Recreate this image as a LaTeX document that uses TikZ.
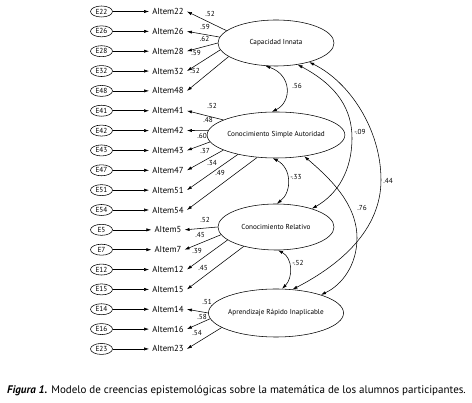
\documentclass[tikz,border=0pt]{standalone}
\usepackage{fontspec}
\setmainfont{PT Sans}
\usetikzlibrary{shapes.geometric,arrows.meta}
\begin{document}
\begin{tikzpicture}[x=1pt,y=-1pt,
  err/.style={ellipse,draw,line width=0.55pt,minimum width=22pt,minimum height=11pt,inner sep=0pt,font=\fontsize{7.3}{8}\selectfont},
  item/.style={inner sep=3pt,font=\fontsize{8.7}{9}\selectfont},
  fac/.style={ellipse,draw,line width=0.55pt,minimum width=116pt,minimum height=46pt,inner sep=0pt,font=\fontsize{7.2}{8}\selectfont},
  ld/.style={inner sep=0pt,font=\fontsize{7.2}{8}\selectfont},
  arr/.style={-{Latex[length=5pt,width=3.2pt]},line width=0.55pt},
  cov/.style={{Latex[length=5pt,width=3.2pt]}-{Latex[length=5pt,width=3.2pt]},line width=0.55pt},
]
\useasboundingbox (0,0) rectangle (472,403);

\foreach \n [count=\i from 0] in {22,26,28,32,48,41,42,43,47,51,54,5,7,12,15,14,16,23} {
  \node[err] (e\n) at (101.5,{11.5+19.85*\i}) {E\n};
  \node[item] (a\n) at (168,{11.5+19.85*\i}) {AItem\n};
  \draw[arr] (e\n) -- (a\n);
}

\node[fac] (ci) at (276,43) {Capacidad Innata};
\node[fac] (csa) at (276,135) {Conocimiento Simple Autoridad};
\node[fac] (cr) at (276,227) {Conocimiento Relativo};
\node[fac,minimum height=48pt] (ari) at (276,313) {Aprendizaje Rápido Inaplicable};

% loadings: Capacidad Innata
\draw[arr] (ci.166) -- (a22.east);
\draw[arr] (ci.174) -- (a26.east);
\draw[arr] (ci.180) -- (a28.east);
\draw[arr] (ci.187) -- (a32.east);
\draw[arr] (ci.196) -- (a48.east);
\node[ld] (l22) at (210,14) {.52};
\node[ld] (l26) at (205,27) {.59};
\node[ld] (l28) at (204.5,39) {.62};
\node[ld] (l32) at (196,53) {.59};
\node[ld] (l48) at (195,71) {.52};

% Conocimiento Simple Autoridad
\draw[arr] (csa.164) -- (a41.east);
\draw[arr] (csa.176) -- (a42.east);
\draw[arr] (csa.186) -- (a43.east);
\draw[arr] (csa.196) -- (a47.east);
\draw[arr] (csa.207) -- (a51.east);
\draw[arr] (csa.230) -- (a54.east);
\node[ld] (l41) at (212,106) {.52};
\node[ld] (l42) at (208,120) {.48};
\node[ld] (l43) at (202,136) {.60};
\node[ld] (l47) at (205,151) {.37};
\node[ld] (l51) at (212,163) {.34};
\node[ld] (l54) at (220,173) {.49};

% Conocimiento Relativo
\draw[arr] (cr.180) -- (a5.east);
\draw[arr] (cr.188) -- (a7.east);
\draw[arr] (cr.195) -- (a12.east);
\draw[arr] (cr.211) -- (a15.east);
\node[ld] (l5) at (205,220) {.52};
\node[ld] (l7) at (200,235) {.45};
\node[ld] (l12) at (197,251) {.39};
\node[ld] (l15) at (203,268) {.45};

% Aprendizaje Rapido Inaplicable
\draw[arr] (ari.180) -- (a14.east);
\draw[arr] (ari.185) -- (a16.east);
\draw[arr] (ari.195) -- (a23.east);
\node[ld] (l14) at (207,302) {.51};
\node[ld] (l16) at (202,317) {.58};
\node[ld] (l23) at (197,333) {.54};

% covariances
\draw[cov] (ci.245) .. controls (292,75) and (292,102) .. (csa.100);
\node[ld] (c1) at (297,86) {.56};
\draw[cov] (csa.262) .. controls (292,168) and (292,192) .. (cr.88);
\node[ld] (c2) at (296,177) {-.33};
\draw[cov] (cr.275) .. controls (293,258) and (293,278) .. (ari.76);
\node[ld] (c3) at (298,263) {-.52};
\draw[cov] (ci.315) .. controls (338,86) and (352,110) .. (352,138) .. controls (352,170) and (338,194) .. (cr.27);
\node[ld] (c4) at (360,132) {-.09};
\draw[cov] (ci.330) .. controls (350,82) and (381,130) .. (381,180) .. controls (381,230) and (340,265) .. (ari.55);
\node[ld] (c5) at (388,181) {.44};
\draw[cov] (csa.323) .. controls (332,180) and (357,205) .. (357,238) .. controls (357,265) and (342,285) .. (ari.22);
\node[ld] (c6) at (362,208) {.76};

\node[inner sep=0pt,font=\fontsize{11}{12}\selectfont] (cap) at (236.5,391)
  {\textbf{\textit{Figura 1.}} Modelo de creencias epistemológicas sobre la matemática de los alumnos participantes.};
\end{tikzpicture}
\end{document}
